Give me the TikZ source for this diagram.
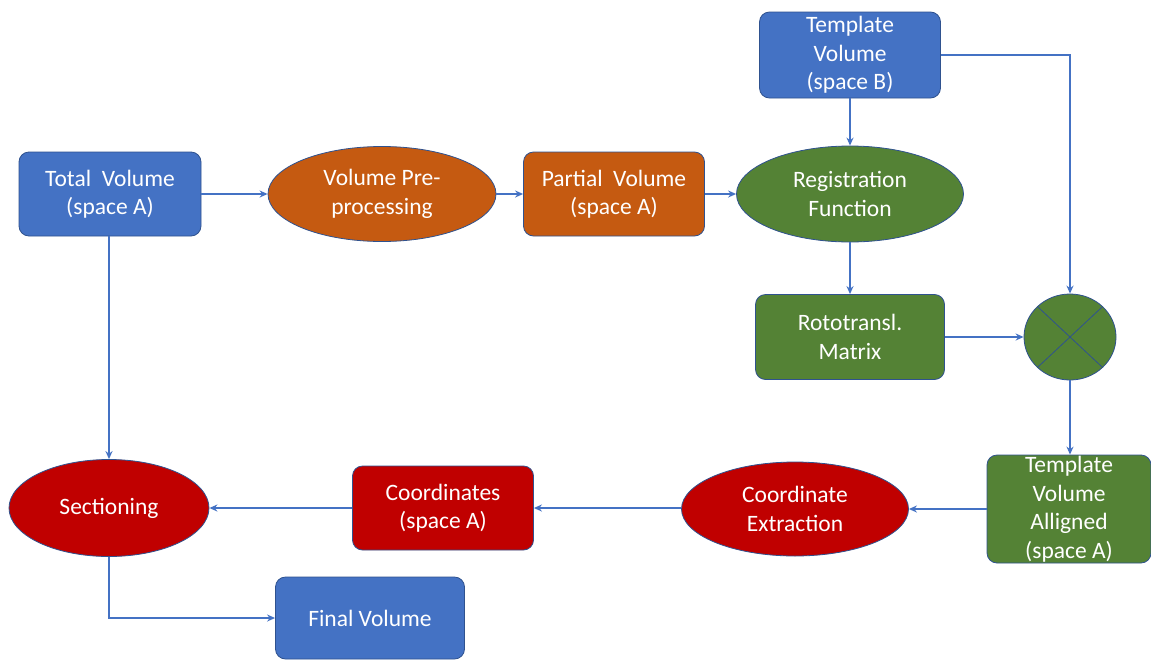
\documentclass[tikz,border=0pt]{standalone}
\usepackage{fontspec}
\setmainfont{Carlito}
\usetikzlibrary{shapes.geometric,arrows.meta}
\definecolor{boxblue}{HTML}{4472C4}
\definecolor{edgeblue}{HTML}{2F528F}
\definecolor{boxorange}{HTML}{C55A11}
\definecolor{boxgreen}{HTML}{548235}
\definecolor{boxred}{HTML}{C00000}
\definecolor{linkblue}{HTML}{4472C4}
\tikzset{
  base/.style={draw=edgeblue, line width=0.8pt, text=white, align=center, inner sep=0pt,
    font=\fontsize{23.5}{28.5}\selectfont},
  rbox/.style={base, rectangle, rounded corners=10pt},
  oval/.style={base, ellipse},
  link/.style={draw=linkblue, line width=1.4pt, -{Stealth[length=8pt,width=7pt]}},
}
\begin{document}
\begin{tikzpicture}[x=1pt,y=-1pt]
\useasboundingbox (0,0) rectangle (1151,659);
\fill[white] (0,0) rectangle (1151,659);

% upper row
\node[rbox, fill=boxblue, minimum width=182pt, minimum height=84pt] (total) at (110,194) {Total\ \ Volume\\(space A)};
\node[oval, fill=boxorange, minimum width=228pt, minimum height=95pt] (pre) at (382,194) {Volume Pre-\\processing};
\node[rbox, fill=boxorange, minimum width=181pt, minimum height=84pt] (partial) at (614,194) {Partial\ \ Volume\\(space A)};
\node[oval, fill=boxgreen, minimum width=227pt, minimum height=96pt] (reg) at (850,194) {Registration\\Function};
\node[rbox, fill=boxblue, minimum width=181pt, minimum height=86pt] (tplB) at (850,55) {Template\\Volume\\(space B)};

% middle row
\node[rbox, fill=boxgreen, minimum width=189pt, minimum height=85pt] (roto) at (850,337) {Rototransl.\\Matrix};
\node[oval, fill=boxgreen, minimum width=92pt, minimum height=86pt] (mult) at (1070,337) {};
\draw[edgeblue, line width=0.8pt] (mult.north west) -- (mult.south east)
  (mult.north east) -- (mult.south west);

% lower row
\node[rbox, fill=boxgreen, minimum width=164pt, minimum height=108pt] (tplA) at (1069,509) {Template\\Volume\\Alligned\\(space A)};
\node[oval, fill=boxred, minimum width=227pt, minimum height=94pt] (extract) at (795,509) {Coordinate\\Extraction};
\node[rbox, fill=boxred, minimum width=181pt, minimum height=84pt] (coords) at (443,508) {Coordinates\\(space A)};
\node[oval, fill=boxred, minimum width=200pt, minimum height=97pt] (sect) at (109,508) {Sectioning};
\node[rbox, fill=boxblue, minimum width=189pt, minimum height=82pt] (final) at (370,618) {Final Volume};

% connectors
\draw[link] (total) -- (pre);
\draw[link] (pre) -- (partial);
\draw[link] (partial) -- (reg);
\draw[link] (tplB) -- (reg);
\draw[link] (tplB.east |- 0,55) -| (mult.north);
\draw[link] (reg) -- (roto);
\draw[link] (roto) -- (mult);
\draw[link] (mult.south) -- (mult.south |- tplA.north);
\draw[link] (tplA.west |- extract) -- (extract);
\draw[link] (extract.west |- coords) -- (coords);
\draw[link] (coords) -- (sect);
\draw[link] (total.south -| sect.north) -- (sect.north);
\draw[link] (sect.south) |- (final.west);
\end{tikzpicture}
\end{document}
